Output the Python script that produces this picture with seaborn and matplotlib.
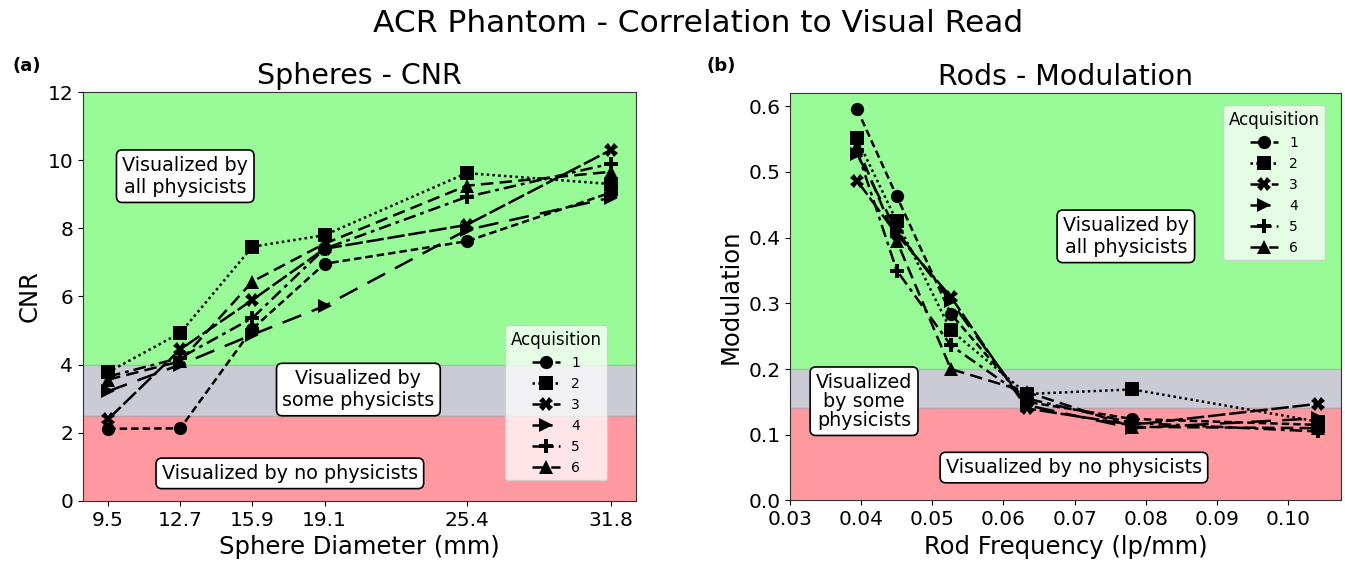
import numpy as np
import pandas as pd
import matplotlib
matplotlib.use("Agg")
import matplotlib.pyplot as plt
import seaborn as sns

# ---------------- data ----------------
acquisitions = ["1", "2", "3", "4", "5", "6"]

sphere_diam = [9.5, 12.7, 15.9, 19.1, 25.4, 31.8]
cnr_1 = [2.12, 2.13, 5.05, 6.96, 7.62, 9.05]
cnr_2 = [3.78, 4.93, 7.46, 7.80, 9.62, 9.30]
cnr_3 = [2.40, 4.45, 5.90, 7.40, 8.10, 10.30]
cnr_4 = [3.22, 4.00, 4.88, 5.72, 7.95, 8.90]
cnr_5 = [3.65, 4.20, 5.37, 7.40, 8.92, 9.90]
cnr_6 = [3.56, 4.10, 6.44, 7.55, 9.25, 9.66]

rod_freq = [0.0394, 0.0450, 0.0526, 0.0633, 0.0781, 0.1042]
mod_1 = [0.596, 0.463, 0.284, 0.150, 0.124, 0.115]
mod_2 = [0.551, 0.425, 0.259, 0.162, 0.169, 0.120]
mod_3 = [0.487, 0.405, 0.310, 0.140, 0.115, 0.147]
mod_4 = [0.528, 0.410, 0.303, 0.145, 0.110, 0.125]
mod_5 = [0.533, 0.350, 0.236, 0.155, 0.118, 0.105]
mod_6 = [0.540, 0.395, 0.200, 0.165, 0.112, 0.110]

sphere_ticks = [9.5, 12.7, 15.9, 19.1, 25.4, 31.8]
sphere_ticklabels = ["9.5", "12.7", "15.9", "19.1", "25.4", "31.8"]
rod_ticks = [0.03, 0.04, 0.05, 0.06, 0.07, 0.08, 0.09, 0.10]

cnr_series = [cnr_1, cnr_2, cnr_3, cnr_4, cnr_5, cnr_6]
mod_series = [mod_1, mod_2, mod_3, mod_4, mod_5, mod_6]

df_cnr = pd.DataFrame({
    "x": np.tile(sphere_diam, 6),
    "y": np.concatenate(cnr_series),
    "Acquisition": np.repeat(acquisitions, 6),
})
df_mod = pd.DataFrame({
    "x": np.tile(rod_freq, 6),
    "y": np.concatenate(mod_series),
    "Acquisition": np.repeat(acquisitions, 6),
})

# ---------------- style ----------------
sns.set_style("ticks")
plt.rcParams["font.family"] = ["DejaVu Sans"]
plt.rcParams["axes.edgecolor"] = "0.2"
for k in ("text.color", "axes.labelcolor", "xtick.color", "ytick.color"):
    plt.rcParams[k] = "black"

markers = ["o", "s", "X", ">", "P", "^"]
dashes = [(3.0, 1.6), (1, 1.3), (7, 1.5), (8, 4.5), (5, 2, 1.5, 2), (5, 2.5)]

fig = plt.figure(figsize=(13.45, 5.68), dpi=100)
ax1 = fig.add_axes([0.0617, 0.118, 0.4112, 0.720])
ax2 = fig.add_axes([0.5874, 0.119, 0.4096, 0.717])

green = "#98fb98"
grey = "#cbcbd5"
red = "#ff99a1"


def draw(ax, df):
    sns.lineplot(data=df, x="x", y="y", style="Acquisition",
                 markers=markers, dashes=dashes, color="black",
                 markersize=9.5, linewidth=1.8, markeredgewidth=0,
                 ax=ax)


box = dict(boxstyle="round,pad=0.3", facecolor="white", edgecolor="black", linewidth=1.2)

# ---- left panel ----
ax1.axhspan(4, 13, color=green, zorder=0)
ax1.axhspan(2.5, 4, color=grey, zorder=0)
ax1.axhspan(-1, 2.5, color=red, zorder=0)
ax1.axhline(4, color="#80d880", lw=1, zorder=0.5)
ax1.axhline(2.5, color="#c0a0a8", lw=1, zorder=0.5)
draw(ax1, df_cnr)
ax1.set_ylim(0, 12)
ax1.set_yticks(range(0, 13, 2))
ax1.set_xticks(sphere_ticks)
ax1.set_xticklabels(sphere_ticklabels)
ax1.set_xlabel("Sphere Diameter (mm)", fontsize=17.5)
ax1.set_ylabel("CNR", fontsize=17.5)
ax1.set_title("Spheres - CNR", fontsize=20.5)
ax1.tick_params(labelsize=14.5)
ax1.text(12.92, 9.53, "Visualized by\nall physicists", ha="center", va="center",
         fontsize=13.8, bbox=box, zorder=5)
ax1.text(20.6, 3.27, "Visualized by\nsome physicists", ha="center", va="center",
         fontsize=13.8, bbox=box, zorder=5)
ax1.text(17.56, 0.81, "Visualized by no physicists", ha="center", va="center",
         fontsize=13.8, bbox=box, zorder=5)
h, l = ax1.get_legend_handles_labels()
leg1 = ax1.legend(h, l, title="Acquisition", loc="lower right",
                  bbox_to_anchor=(0.948, 0.051), borderaxespad=0,
                  fontsize=10, title_fontsize=12, framealpha=0.75)

# ---- right panel ----
ax2.axhspan(0.2, 0.7, color=green, zorder=0)
ax2.axhspan(0.14, 0.2, color=grey, zorder=0)
ax2.axhspan(-0.1, 0.14, color=red, zorder=0)
ax2.axhline(0.2, color="#80d880", lw=1, zorder=0.5)
ax2.axhline(0.14, color="#c0a0a8", lw=1, zorder=0.5)
draw(ax2, df_mod)
ax2.set_xlim(0.03, 0.10744)
ax2.set_ylim(0, 0.62)
ax2.set_xticks(rod_ticks)
ax2.set_xticklabels([f"{t:.2f}" for t in rod_ticks])
ax2.set_yticks(np.arange(0, 0.61, 0.1))
ax2.set_yticklabels([f"{t:.1f}" for t in np.arange(0, 0.61, 0.1)])
ax2.set_xlabel("Rod Frequency (lp/mm)", fontsize=17.5)
ax2.set_ylabel("Modulation", fontsize=17.5)
ax2.set_title("Rods - Modulation", fontsize=20.5)
ax2.tick_params(labelsize=14.5)
ax2.text(0.0772, 0.402, "Visualized by\nall physicists", ha="center", va="center",
         fontsize=13.8, bbox=box, zorder=5)
ax2.text(0.0404, 0.151, "Visualized\nby some\nphysicists", ha="center", va="center",
         fontsize=13.8, bbox=box, zorder=5, linespacing=1.0)
ax2.text(0.0699, 0.050, "Visualized by no physicists", ha="center", va="center",
         fontsize=13.8, bbox=box, zorder=5)
h, l = ax2.get_legend_handles_labels()
leg2 = ax2.legend(h, l, title="Acquisition", loc="upper right",
                  bbox_to_anchor=(0.971, 0.970), borderaxespad=0,
                  fontsize=10, title_fontsize=12, framealpha=0.75)

for leg in (leg1, leg2):
    leg.set_zorder(6)

fig.text(0.009, 0.875, "(a)", fontsize=13, fontweight="bold")
fig.text(0.525, 0.875, "(b)", fontsize=13, fontweight="bold")
fig.suptitle("ACR Phantom - Correlation to Visual Read", fontsize=22.5,
             x=0.519, y=0.985)

fig.savefig("out.png", dpi=100)
